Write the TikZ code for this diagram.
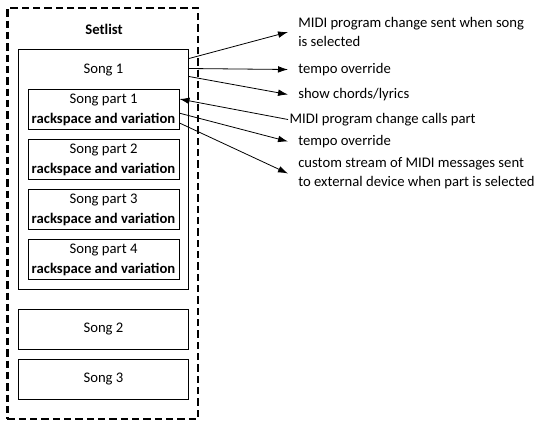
\documentclass[tikz,border=0pt]{standalone}
\usepackage{fontspec}
\setmainfont{Carlito}
\usetikzlibrary{arrows.meta,positioning}

\begin{document}
\begin{tikzpicture}[
    x=0.75pt, y=-0.75pt,
    node distance=37.5pt,
    font=\fontsize{11}{15}\selectfont,
    box/.style={rectangle, draw, line width=0.75pt, inner sep=0pt, align=center},
    part_block/.style={box, minimum width=113.25pt, minimum height=30pt},
    song_block/.style={box, minimum width=127.5pt, minimum height=30pt},
    frame/.style={rectangle, draw, line width=1.6pt, dash pattern=on 5.5pt off 3pt, minimum width=142.9pt, minimum height=308.25pt},
    note/.style={anchor=west, align=left, inner xsep=7.5pt, inner ysep=0pt, font=\fontsize{11}{14.25}\selectfont},
    line/.style={draw, -{Latex[length=7.5pt,width=5pt]}, line width=0.6pt}
]
    \useasboundingbox (0,0) rectangle (553,430);

    % Setlist frame
    \node [frame] (setlist) at (102.75,213.5) {};
    \node [font=\fontsize{11}{15}\selectfont\bfseries] (setlisttitle) at (104,29) {Setlist};

    % Song 1 with its parts
    \node [box, minimum width=127.5pt, minimum height=180pt] (song1) at (103.5,169) {};
    \node (song1title) at (103.5,70) {Song 1};
    \node [part_block] (part1) at (103.5,109.5) {Song part 1\\\textbf{rackspace and variation}};
    \node [part_block, below of=part1] (part2) {Song part 2\\\textbf{rackspace and variation}};
    \node [part_block, below of=part2] (part3) {Song part 3\\\textbf{rackspace and variation}};
    \node [part_block, below of=part3] (part4) {Song part 4\\\textbf{rackspace and variation}};

    % Other songs
    \node [song_block] (song2) at (103.5,329) {Song 2};
    \node [song_block, below of=song2] (song3) {Song 3};

    % Notes
    \node [note] (pcsong) at (288,32) {MIDI program change sent when song\\is selected};
    \node [note] (tempo1) at (288,69.5) {tempo override};
    \node [note] (chords) at (288,94.5) {show chords/lyrics};
    \node [note, inner xsep=1pt] (pcpart) at (288,119.5) {MIDI program change calls part};
    \node [note] (tempo2) at (288,141.5) {tempo override};
    \node [note] (stream) at (288,173.5) {custom stream of MIDI messages sent\\to external device when part is selected};

    % Paths
    \path [line] ([yshift=-7.5pt]song1.north east) -- (pcsong.west);
    \path [line] ([yshift=-15pt]song1.north east) -- (tempo1.west);
    \path [line] ([yshift=-21pt]song1.north east) -- (chords.west);
    \path [line] (pcpart.west) -- ([yshift=-7.5pt]part1.north east);
    \path [line] ([yshift=-2.75pt]part1.east) -- (tempo2.west);
    \path [line] ([yshift=5.25pt]part1.south east) -- (stream.west);

\end{tikzpicture}
\end{document}
